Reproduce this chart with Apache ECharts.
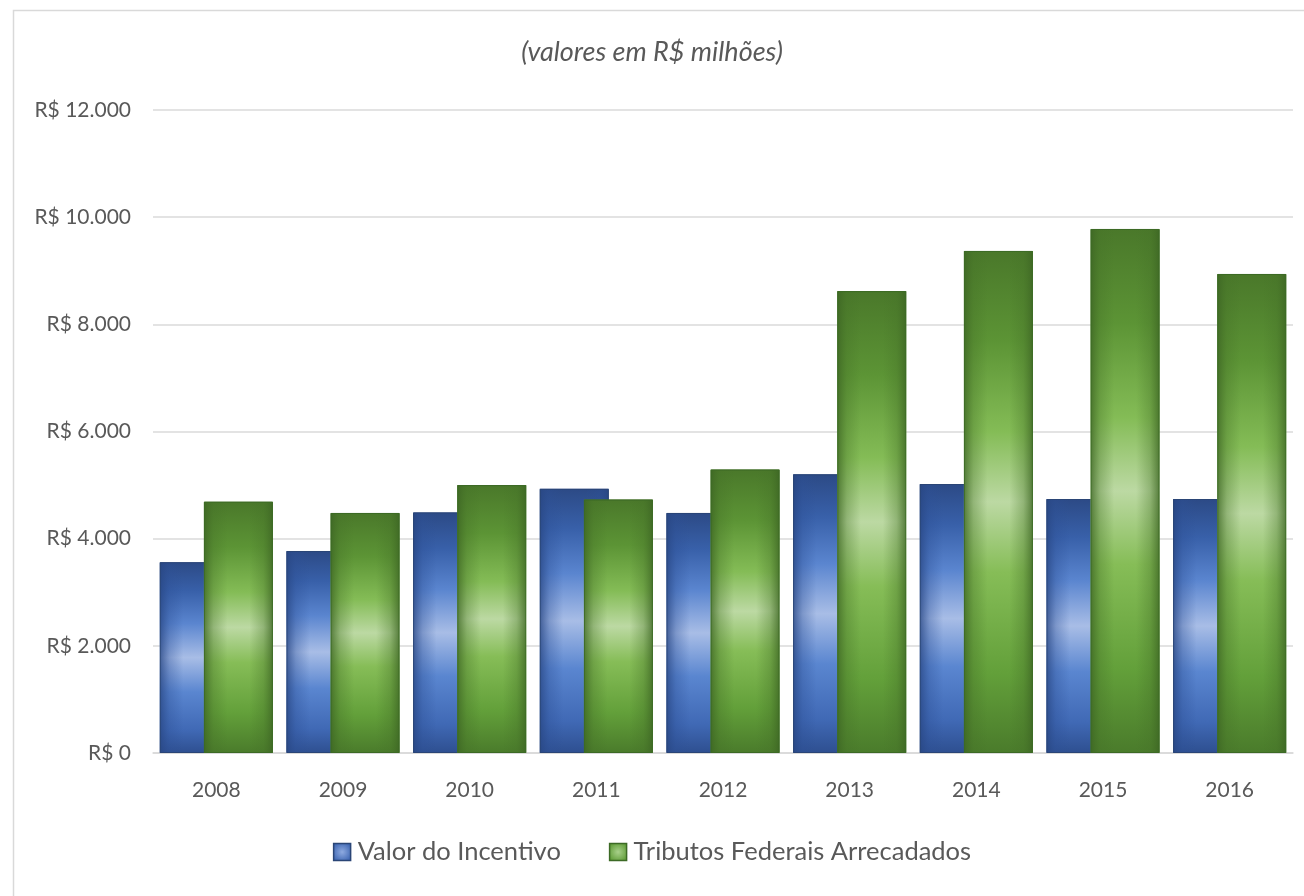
<!DOCTYPE html>
<html>
<head>
<meta charset="utf-8">
<script src="https://cdn.jsdelivr.net/npm/echarts@6/dist/echarts.min.js"></script>
<style>
  html, body { margin: 0; padding: 0; background: #fff; }
  #chart { width: 1304px; height: 896px; }
</style>
</head>
<body>
<div id="chart"></div>
<script>
// dados (R$ milhões)
const years = ['2008', '2009', '2010', '2011', '2012', '2013', '2014', '2015', '2016']
const incentivo = [3560, 3770, 4490, 4930, 4480, 5200, 5020, 4740, 4740]
const tributos = [4690, 4480, 5000, 4730, 5290, 8620, 9370, 9780, 8940]
const yTicks = [0, 2000, 4000, 6000, 8000, 10000, 12000]

const textColor = '#595959'
const fontFamily = 'Lato, "Open Sans", sans-serif'

const vGrad = (stops) => ({
  type: 'linear', x: 0, y: 0, x2: 0, y2: 1,
  colorStops: stops.map(s => ({ offset: s[0], color: s[1] }))
})
const hGrad = (stops) => ({
  type: 'linear', x: 0, y: 0, x2: 1, y2: 0,
  colorStops: stops.map(s => ({ offset: s[0], color: s[1] }))
})
const rGrad = (inner, outer) => ({
  type: 'radial', x: 0.5, y: 0.5, r: 0.6,
  colorStops: [{ offset: 0, color: inner }, { offset: 1, color: outer }]
})

// gradiente vertical (centro claro), borda lateral escurecida por cima
const blueFill = vGrad([
  [0, '#2c4a86'], [0.15, '#3860a9'], [0.32, '#5a85cf'], [0.5, '#a8bde6'],
  [0.68, '#5a86d0'], [0.88, '#4069b5'], [1, '#2e4f90']
])
const greenFill = vGrad([
  [0, '#4a782a'], [0.18, '#5c9435'], [0.36, '#84bc56'], [0.5, '#bcd9a3'],
  [0.64, '#86bd57'], [0.84, '#63a03a'], [1, '#4a7b2b']
])
const blueEdge = hGrad([
  [0, 'rgba(40,70,130,0.8)'], [0.14, 'rgba(45,80,150,0.35)'], [0.34, 'rgba(45,80,150,0)'],
  [0.66, 'rgba(45,80,150,0)'], [0.86, 'rgba(45,80,150,0.35)'], [1, 'rgba(40,70,130,0.8)']
])
const greenEdge = hGrad([
  [0, 'rgba(60,100,35,0.8)'], [0.14, 'rgba(70,115,40,0.35)'], [0.34, 'rgba(70,115,40,0)'],
  [0.66, 'rgba(70,115,40,0)'], [0.86, 'rgba(70,115,40,0.35)'], [1, 'rgba(60,100,35,0.8)']
])

const fmt = v => 'R$ ' + String(v).replace(/\B(?=(\d{3})+(?!\d))/g, '.')

const chart = echarts.init(document.getElementById('chart'))

const xBase = {
  type: 'category',
  data: years,
  axisTick: { show: false },
  axisLine: { lineStyle: { color: '#d9d9d9', width: 1.5 } }
}

const option = {
  animation: false,
  backgroundColor: '#fff',
  graphic: [{
    type: 'rect',
    left: 11, top: 8,
    shape: { width: 1400, height: 1000 },
    style: { fill: 'none', stroke: '#d9d9d9', lineWidth: 1.5 },
    silent: true
  }],
  title: {
    text: '(valores em R$ milhões)',
    left: 'center',
    top: 34,
    textStyle: { color: textColor, fontSize: 27, fontStyle: 'italic', fontWeight: 'normal', fontFamily }
  },
  legend: {
    data: [
      {
        name: 'Valor do Incentivo',
        itemStyle: { color: rGrad('#8eaae0', '#3a63b0'), borderColor: '#2a4576', borderWidth: 1.5 }
      },
      {
        name: 'Tributos Federais Arrecadados',
        itemStyle: { color: rGrad('#a8d08a', '#5c9a34'), borderColor: '#3c6a25', borderWidth: 1.5 }
      }
    ],
    bottom: 26,
    left: 'center',
    itemWidth: 17,
    itemHeight: 17,
    itemGap: 48,
    icon: 'rect',
    textStyle: { color: textColor, fontSize: 25.5, fontFamily, padding: [0, 0, 0, 2] }
  },
  grid: { left: 153, right: 11, top: 110, bottom: 143 },
  xAxis: [
    Object.assign({}, xBase, {
      axisLabel: { color: textColor, fontSize: 21, fontFamily, margin: 27 }
    }),
    Object.assign({}, xBase, { show: false })
  ],
  yAxis: {
    type: 'value',
    min: 0,
    max: 12000,
    interval: 2000,
    axisLine: { show: false },
    axisTick: { show: false },
    splitLine: { lineStyle: { color: '#e3e3e3', width: 2 } },
    axisLabel: {
      color: textColor, fontSize: 21, fontFamily, margin: 22,
      formatter: v => yTicks.includes(v) ? fmt(v) : ''
    }
  },
  series: [
    {
      name: 'Valor do Incentivo',
      type: 'bar',
      xAxisIndex: 0,
      data: incentivo,
      barWidth: 69,
      barGap: '-36%',
      z: 2,
      itemStyle: { color: blueFill }
    },
    {
      name: 'Tributos Federais Arrecadados',
      type: 'bar',
      xAxisIndex: 0,
      data: tributos,
      barWidth: 69,
      z: 4,
      itemStyle: { color: greenFill }
    },
    {
      name: 'blue-edge',
      type: 'bar',
      xAxisIndex: 1,
      data: incentivo,
      barWidth: 69,
      barGap: '-36%',
      z: 3,
      silent: true,
      itemStyle: { color: blueEdge, borderColor: '#2a4576', borderWidth: 1 }
    },
    {
      name: 'green-edge',
      type: 'bar',
      xAxisIndex: 1,
      data: tributos,
      barWidth: 69,
      z: 5,
      silent: true,
      itemStyle: { color: greenEdge, borderColor: '#3c6a25', borderWidth: 1 }
    }
  ]
}

chart.setOption(option)
window.addEventListener('resize', () => chart.resize())
</script>
</body>
</html>
